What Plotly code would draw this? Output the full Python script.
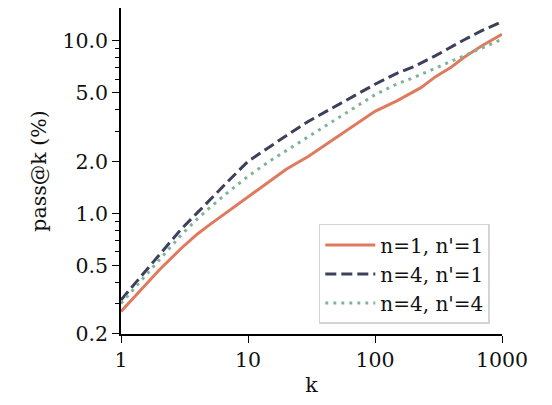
import plotly.graph_objects as go

k_red = [1, 2, 3, 4, 5, 7, 10, 15, 20, 30, 50, 100, 150, 200, 230, 300, 400, 500, 700, 1000]
red_vals = [0.27, 0.47, 0.63, 0.76, 0.86, 1.03, 1.25, 1.54, 1.80, 2.14, 2.75, 3.9, 4.5, 5.05, 5.35, 6.2, 7.05, 8.0, 9.4, 10.9]

k_other = [1, 2, 3, 4, 5, 7, 10, 15, 20, 30, 50, 100, 150, 200, 300, 400, 500, 700, 1000]
navy_vals = [0.315, 0.575, 0.815, 1.01, 1.2, 1.54, 2.0, 2.45, 2.82, 3.42, 4.2, 5.6, 6.5, 7.05, 8.2, 9.27, 10.1, 11.5, 12.9]
green_vals = [0.30, 0.54, 0.755, 0.93, 1.08, 1.33, 1.64, 2.02, 2.31, 2.77, 3.5, 4.87, 5.64, 6.1, 6.95, 7.63, 8.2, 9.15, 10.2]

names = ["n=1, n'=1", "n=4, n'=1", "n=4, n'=4"]
colors = ["#E07A5F", "#3D405B", "#81B29A"]

y_ticks = [0.2, 0.5, 1.0, 2.0, 5.0, 10.0]
y_ticktext = ["0.2", "0.5", "1.0", "2.0", "5.0", "10.0"]
y_minor = [0.3, 0.4, 0.6, 0.7, 0.8, 0.9, 3, 4, 6, 7, 8, 9]
x_ticks = [1, 10, 100, 1000]
x_ticktext = ["1", "10", "100", "1000"]

FONT = "DejaVu Serif"
FS = 20.5

fig = go.Figure()
fig.add_trace(go.Scatter(x=k_red, y=red_vals, mode="lines", name=names[0],
                         line=dict(color=colors[0], width=3)))
fig.add_trace(go.Scatter(x=k_other, y=navy_vals, mode="lines", name=names[1],
                         line=dict(color=colors[1], width=3, dash="11px,5px")))
fig.add_trace(go.Scatter(x=k_other, y=green_vals, mode="lines", name=names[2],
                         line=dict(color=colors[2], width=3, dash="3px,5px")))

fig.update_layout(
    width=544, height=397,
    margin=dict(l=113, r=50, t=0, b=71),
    paper_bgcolor="white", plot_bgcolor="white",
    font=dict(family=FONT, size=FS, color="#111111"),
    showlegend=True,
    legend=dict(x=0.968, y=0.031, xanchor="right", yanchor="bottom",
                bordercolor="#d4d4d4", borderwidth=1.5, bgcolor="rgba(255,255,255,0.8)",
                itemwidth=50,
                font=dict(family=FONT, size=20)),
)
fig.update_xaxes(
    type="log", range=[0, 3], automargin=False,
    tickvals=x_ticks, ticktext=x_ticktext,
    showgrid=False, zeroline=False,
    showline=True, linecolor="black", linewidth=1.5,
    ticks="outside", ticklen=7, tickwidth=1.3, tickcolor="black",
    title=dict(text="k", standoff=6, font=dict(family=FONT, size=FS)),
)
fig.update_yaxes(
    type="log", range=[-0.699, 1.19], automargin=False,
    tickvals=y_ticks, ticktext=y_ticktext,
    showgrid=False, zeroline=False,
    showline=True, linecolor="black", linewidth=1.5,
    ticks="outside", ticklen=7, tickwidth=1.3, tickcolor="black",
    minor=dict(tickvals=y_minor, ticks="outside", ticklen=4, tickwidth=1, tickcolor="black", showgrid=False),
    title=dict(text="pass@k (%)", standoff=10, font=dict(family=FONT, size=FS)),
)

fig.write_html("out.html")
